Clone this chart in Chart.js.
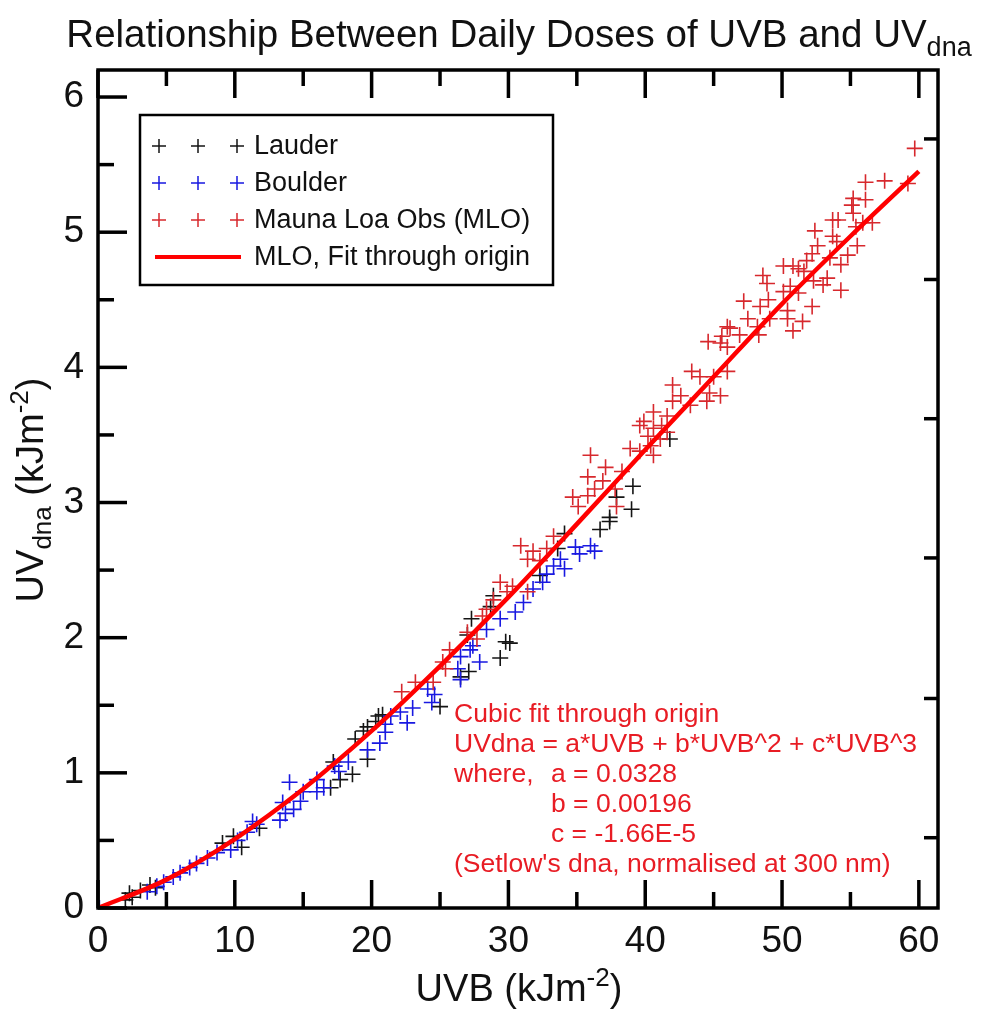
<!DOCTYPE html>
<html>
<head>
<meta charset="utf-8">
<script src="https://cdn.jsdelivr.net/npm/chart.js@4.4.1/dist/chart.umd.min.js"></script>
<style>
  html, body { margin: 0; padding: 0; background: #fff; }
  #wrap { width: 981px; height: 1012px; }
</style>
</head>
<body>
<div id="wrap"><canvas id="uvChart" width="981" height="1012"></canvas></div>
<script>
// values
const lauderX = [2.0, 2.3, 2.5, 3.1, 3.8, 4.2, 9.1, 9.9, 10.5, 11.8, 17.0, 17.2, 17.7, 18.6, 18.8, 19.4, 19.7, 19.7, 20.3, 20.5, 20.8,
  25.0, 26.5, 27.0, 27.1, 27.3, 28.7, 28.9, 29.4, 29.8, 30.1, 32.3, 33.6, 34.1, 36.7, 37.4, 37.4, 37.9, 39.0, 39.1, 41.8];
const lauderY = [0.06, 0.11, 0.08, 0.13, 0.17, 0.15, 0.48, 0.53, 0.45, 0.59, 0.89, 1.08, 0.95, 0.99, 1.25, 1.31, 1.10, 1.34, 1.38, 1.42, 1.43,
  1.49, 1.71, 2.02, 1.75, 2.14, 2.23, 2.31, 1.85, 1.97, 1.96, 2.46, 2.66, 2.77, 2.80, 2.86, 2.89, 3.04, 2.95, 3.12, 3.47];

const boulderX = [0.1, 3.6, 4.3, 4.8, 5.5, 6.0, 6.7, 7.2, 8.0, 8.7, 9.7, 10.2, 10.9, 11.3, 11.6, 13.3, 13.5, 13.7, 14.0, 14.3, 14.8, 15.0,
  16.0, 16.0, 16.5, 17.3, 17.6, 18.3, 19.7, 20.6, 21.0, 21.0, 21.4, 22.1, 22.6, 23.0, 24.1, 24.4, 24.6, 26.3, 26.5, 26.5, 27.2, 27.4, 27.9,
  28.4, 29.4, 30.5, 31.1, 31.8, 32.5, 32.8, 33.3, 33.8, 34.1, 34.9, 35.2, 36.0, 36.3];
const boulderY = [0.0, 0.12, 0.16, 0.19, 0.23, 0.26, 0.30, 0.33, 0.37, 0.41, 0.43, 0.50, 0.56, 0.64, 0.62, 0.65, 0.78, 0.70, 0.93, 0.73, 0.79, 0.86,
  0.86, 0.95, 0.89, 1.05, 1.01, 1.08, 1.17, 1.22, 1.30, 1.36, 1.42, 1.45, 1.37, 1.48, 1.62, 1.52, 1.58, 1.77, 1.86, 1.69, 1.91, 1.94, 1.82,
  2.06, 2.14, 2.19, 2.26, 2.36, 2.41, 2.47, 2.53, 2.58, 2.51, 2.67, 2.62, 2.68, 2.64];

const mloX = [22.2, 23.2, 24.5, 25.2, 25.4, 25.7, 27.0, 27.7, 28.1, 28.4, 28.9, 29.4, 29.9, 30.3, 30.9, 31.4, 31.4, 31.8, 32.3, 32.8, 33.3,
  34.7, 35.1, 35.8, 35.8, 36.0, 36.3, 36.9, 37.1, 37.8, 37.9, 38.3, 38.9, 39.6, 39.6, 39.9, 40.2, 40.4, 40.6, 40.6, 40.6, 41.1, 41.2, 41.6,
  41.6, 42.0, 42.0, 42.6, 43.3, 43.4, 44.0, 44.5, 44.6, 44.7, 45.0, 45.5, 45.5, 45.6, 46.0, 46.0, 46.0, 46.2, 46.9, 47.2, 47.5, 48.2, 48.3,
  48.4, 48.6, 48.9, 49.0, 49.1, 50.1, 50.1, 50.4, 50.4, 50.6, 50.8, 50.8, 51.2, 51.2, 51.5, 51.6, 51.8, 52.2, 52.2, 52.3, 52.4, 52.6, 53.0,
  53.3, 53.5, 53.7, 53.7, 54.0, 54.1, 54.3, 54.3, 54.8, 55.1, 55.2, 55.2, 55.4, 55.5, 55.9, 56.1, 56.1, 56.6, 57.5, 59.2, 59.7];
const mloY = [1.60, 1.67, 1.67, 1.82, 1.77, 1.91, 2.04, 1.99, 2.16, 2.21, 2.28, 2.41, 2.34, 2.38, 2.68, 2.58, 2.34, 2.64, 2.57, 2.66, 2.75,
  3.04, 2.97, 3.19, 3.05, 3.35, 3.10, 3.16, 3.26, 3.10, 2.97, 3.23, 3.40, 3.57, 3.38, 3.60, 3.49, 3.42, 3.67, 3.55, 3.35, 3.47, 3.57, 3.64,
  3.52, 3.87, 3.75, 3.79, 3.72, 3.97, 3.93, 3.75, 4.19, 3.81, 3.93, 4.18, 3.79, 4.23, 4.30, 4.15, 3.97, 4.29, 4.24, 4.49, 4.36, 4.30, 4.24,
  4.45, 4.68, 4.62, 4.50, 4.36, 4.75, 4.56, 4.42, 4.36, 4.60, 4.75, 4.27, 4.73, 4.55, 4.34, 4.71, 4.79, 4.84, 4.45, 4.64, 5.01, 4.90, 4.61,
  4.66, 4.81, 5.09, 4.97, 4.93, 5.09, 4.76, 4.57, 4.83, 5.20, 5.25, 5.14, 5.04, 4.90, 5.07, 5.37, 5.24, 5.07, 5.38, 5.36, 5.62];

const fitX = [0, 5, 10, 15, 20, 25, 30, 35, 40, 45, 50, 55, 60];
const fitY = [0, 0.21, 0.51, 0.88, 1.31, 1.79, 2.30, 2.84, 3.39, 3.93, 4.47, 4.97, 5.45];

const xMajor = [0, 10, 20, 30, 40, 50, 60];
const xMinor = [5, 15, 25, 35, 45, 55];
const yMajor = [0, 1, 2, 3, 4, 5, 6];
const yMinor = [0.5, 1.5, 2.5, 3.5, 4.5, 5.5];
const yRight = [0.52, 1.55, 2.59, 3.62, 4.65, 5.69];

const noteLines = [
  ["Cubic fit through origin", ""],
  ["UVdna = a*UVB + b*UVB^2 + c*UVB^3", ""],
  ["where,", "a = 0.0328"],
  ["", "b = 0.00196"],
  ["", "c = -1.66E-5"],
  ["(Setlow's dna, normalised at 300 nm)", ""]
];

const FONT = '"Liberation Sans", Arial, sans-serif';

function pts(xs, ys) {
  return xs.map((x, i) => ({ x: x, y: ys[i] }));
}

// draw text made of pieces (sub/superscripts)
function richText(ctx, parts, x, y, align) {
  let w = 0;
  parts.forEach(p => {
    ctx.font = p.size + 'px ' + FONT;
    p.w = ctx.measureText(p.t).width;
    w += p.w;
  });
  let cx = align === 'center' ? x - w / 2 : x;
  parts.forEach(p => {
    ctx.font = p.size + 'px ' + FONT;
    ctx.textAlign = 'left';
    ctx.textBaseline = 'alphabetic';
    ctx.fillText(p.t, cx, y + (p.dy || 0));
    cx += p.w;
  });
}

const framePlugin = {
  id: 'framePlugin',
  afterDatasetsDraw(chart) {
    const ctx = chart.ctx;
    const a = chart.chartArea;
    const xs = chart.scales.x;
    const ys = chart.scales.y;
    ctx.save();
    ctx.strokeStyle = '#000';
    ctx.lineWidth = 3.5;
    ctx.lineCap = 'butt';
    ctx.strokeRect(a.left, a.top, a.right - a.left, a.bottom - a.top);

    const tick = (x1, y1, x2, y2) => {
      ctx.beginPath();
      ctx.moveTo(x1, y1);
      ctx.lineTo(x2, y2);
      ctx.stroke();
    };
    xMajor.forEach(v => {
      const px = xs.getPixelForValue(v);
      tick(px, a.bottom, px, a.bottom - 28);
      tick(px, a.top, px, a.top + 28);
    });
    xMinor.forEach(v => {
      const px = xs.getPixelForValue(v);
      tick(px, a.bottom, px, a.bottom - 16);
      tick(px, a.top, px, a.top + 16);
    });
    yMajor.forEach(v => {
      const py = ys.getPixelForValue(v);
      tick(a.left, py, a.left + 29, py);
    });
    yMinor.forEach(v => {
      const py = ys.getPixelForValue(v);
      tick(a.left, py, a.left + 16, py);
    });
    yRight.forEach(v => {
      const py = ys.getPixelForValue(v);
      tick(a.right, py, a.right - 14, py);
    });
    ctx.restore();
  },
  afterDraw(chart) {
    const ctx = chart.ctx;
    ctx.save();
    ctx.fillStyle = '#111';

    // title
    richText(ctx, [
      { t: 'Relationship Between Daily Doses of UVB and UV', size: 38.5 },
      { t: 'dna', size: 27, dy: 9 }
    ], 519, 47, 'center');

    // x axis title
    richText(ctx, [
      { t: 'UVB (kJm', size: 38 },
      { t: '-2', size: 26, dy: -15 },
      { t: ')', size: 38 }
    ], 519, 1001, 'center');

    // y axis title
    ctx.save();
    ctx.translate(43, 490);
    ctx.rotate(-Math.PI / 2);
    richText(ctx, [
      { t: 'UV', size: 38 },
      { t: 'dna', size: 26, dy: 8 },
      { t: ' (kJm', size: 38 },
      { t: '-2', size: 26, dy: -15 },
      { t: ')', size: 38 }
    ], 0, 0, 'center');
    ctx.restore();

    // legend box
    const lx = 140, ly = 115, lw = 413, lh = 170;
    ctx.fillStyle = '#fff';
    ctx.fillRect(lx, ly, lw, lh);
    ctx.strokeStyle = '#000';
    ctx.lineWidth = 2.5;
    ctx.strokeRect(lx, ly, lw, lh);

    const rows = [146, 183, 220, 257];
    chart.data.datasets.slice(1).concat([chart.data.datasets[0]]).forEach((ds, i) => {
      const ry = rows[i];
      ctx.strokeStyle = ds.borderColor;
      if (ds.showLine) {
        ctx.lineWidth = 4;
        ctx.beginPath();
        ctx.moveTo(155, ry);
        ctx.lineTo(241, ry);
        ctx.stroke();
      } else {
        ctx.lineWidth = 1.5;
        [159, 198, 237].forEach(mx => {
          ctx.beginPath();
          ctx.moveTo(mx - 7, ry);
          ctx.lineTo(mx + 7, ry);
          ctx.moveTo(mx, ry - 7);
          ctx.lineTo(mx, ry + 7);
          ctx.stroke();
        });
      }
      ctx.fillStyle = '#111';
      ctx.font = '27px ' + FONT;
      ctx.textAlign = 'left';
      ctx.textBaseline = 'middle';
      ctx.fillText(ds.label, 254, ry + 1);
    });

    // fit note
    ctx.fillStyle = 'rgb(232,28,36)';
    ctx.font = '26.5px ' + FONT;
    ctx.textAlign = 'left';
    ctx.textBaseline = 'alphabetic';
    noteLines.forEach((ln, i) => {
      const by = 722 + i * 30;
      if (ln[0]) ctx.fillText(ln[0], 454, by);
      if (ln[1]) ctx.fillText(ln[1], 551, by);
    });
    ctx.restore();
  }
};

const ctx = document.getElementById('uvChart');

new Chart(ctx, {
  type: 'scatter',
  data: {
    datasets: [
      {
        label: 'MLO, Fit through origin',
        data: pts(fitX, fitY),
        showLine: true,
        borderColor: 'rgb(255,0,0)',
        borderWidth: 4.5,
        pointRadius: 0,
        cubicInterpolationMode: 'monotone',
        order: 0
      },
      {
        label: 'Lauder',
        data: pts(lauderX, lauderY),
        pointStyle: 'cross',
        pointRadius: 8,
        borderWidth: 1.6,
        borderColor: 'rgb(20,20,20)',
        order: 3
      },
      {
        label: 'Boulder',
        data: pts(boulderX, boulderY),
        pointStyle: 'cross',
        pointRadius: 8,
        borderWidth: 1.6,
        borderColor: 'rgb(25,25,225)',
        order: 2
      },
      {
        label: 'Mauna Loa Obs (MLO)',
        data: pts(mloX, mloY),
        pointStyle: 'cross',
        pointRadius: 8,
        borderWidth: 1.6,
        borderColor: 'rgb(215,40,45)',
        order: 1
      }
    ]
  },
  options: {
    responsive: false,
    animation: false,
    layout: { padding: { top: 70, right: 43, left: 0, bottom: 0 } },
    plugins: {
      legend: { display: false },
      tooltip: { enabled: false },
      title: { display: false }
    },
    scales: {
      x: {
        type: 'linear',
        min: 0,
        max: 61.4,
        afterFit(s) { s.height = 104; },
        grid: { display: false, drawTicks: false },
        border: { display: false },
        ticks: {
          stepSize: 10,
          includeBounds: false,
          padding: 12,
          color: '#111',
          font: { family: FONT, size: 37 }
        }
      },
      y: {
        type: 'linear',
        min: 0,
        max: 6.2,
        afterFit(s) { s.width = 98; },
        grid: { display: false, drawTicks: false },
        border: { display: false },
        ticks: {
          stepSize: 1,
          includeBounds: false,
          padding: 14,
          color: '#111',
          font: { family: FONT, size: 37 }
        }
      }
    }
  },
  plugins: [framePlugin]
});
</script>
</body>
</html>
